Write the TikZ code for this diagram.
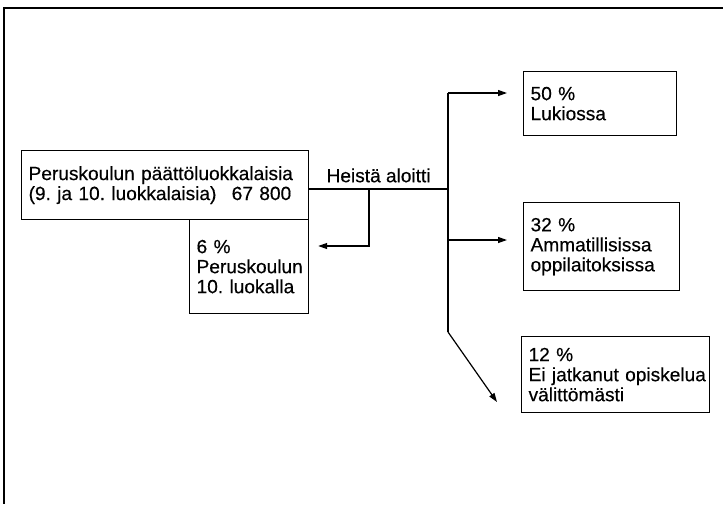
\documentclass[tikz,border=0pt]{standalone}
\usepackage{fontspec}
\setmainfont{Liberation Sans}[FakeBold=0.4]
\usepackage{tikz}
\usetikzlibrary{arrows.meta,positioning}
\frenchspacing

\begin{document}
\begin{tikzpicture}[
  x=1pt, y=-1pt,
  every node/.style={font=\fontsize{19.1}{20}\selectfont},
  box/.style 2 args={rectangle, draw, line width=1.2pt, anchor=north west,
    inner xsep=7pt, inner ysep=0pt, text width=#1, minimum height=#2,
    align=left},
  line/.style={line width=1.2pt},
  arr/.style={-{Triangle[length=9pt, width=6pt]}, line width=1.2pt}
]
  \useasboundingbox (0,0) rectangle (723,504);
  % frame
  \draw[line width=1.5pt] (723,8) -- (4,8) -- (4,504);

  \node[box={273pt}{69pt}] (start) at (21,150)
    {Peruskoulun päättöluokkalaisia\\(9. ja 10. luokkalaisia)\hspace{0.8em}67 800};
  \node[box={105pt}{94pt}] (stay) at (189,219)
    {6 \%\\Peruskoulun\\10. luokalla};
  \node[box={139pt}{64pt}] (lukio) at (523,71) {50 \%\\Lukiossa};
  \node[box={142pt}{88pt}] (ammat) at (523,202)
    {32 \%\\Ammatillisissa\\oppilaitoksissa};
  \node[box={174pt}{76pt}] (eijatk) at (521,336)
    {12 \%\\\mbox{Ei jatkanut opiskelua}\\välittömästi};

  \coordinate (split) at (448,189);
  \coordinate (turn) at (369,189);
  \coordinate (back) at (369,246);
  \coordinate (top) at (448,93);
  \coordinate (mid) at (448,240);
  \coordinate (bend) at (448,332);
  \coordinate (dropin) at (497,402);

  \draw[line] (start.east |- split) --
    node[above, inner sep=6pt] (heista) {Heistä aloitti} (split);
  \draw[arr, shorten >=9pt] (turn) -- (back) -- (back -| stay.east);
  \draw[line] (top) -- (bend);
  \draw[arr] (bend) -- (dropin);
  \foreach \f/\t in {top/lukio, mid/ammat} {
    \draw[arr, shorten >=16pt] (\f) -- (\f -| \t.west);
  }
\end{tikzpicture}
\end{document}
